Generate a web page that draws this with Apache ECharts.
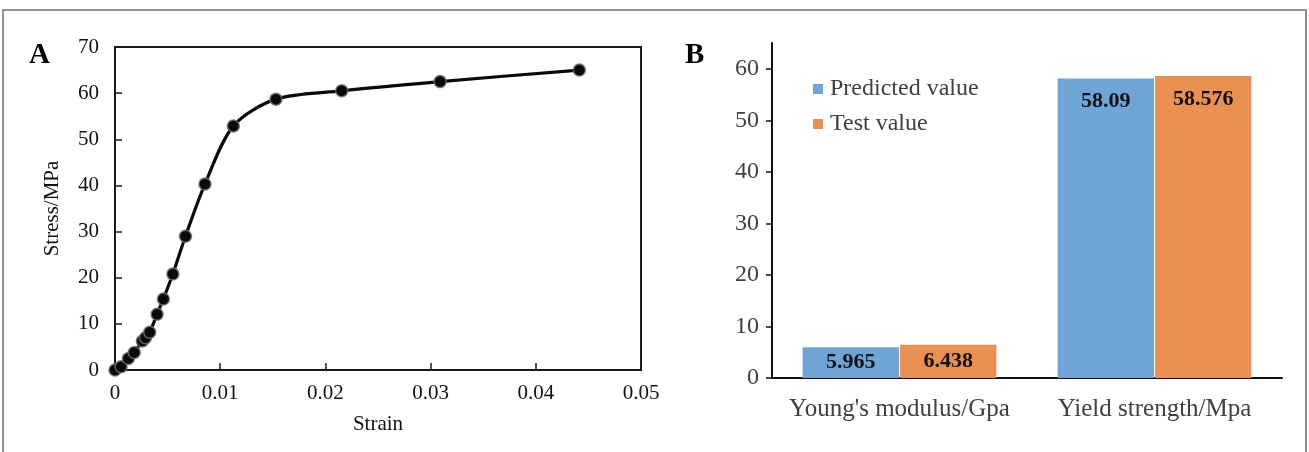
<!DOCTYPE html>
<html>
<head>
<meta charset="utf-8">
<script src="https://cdn.jsdelivr.net/npm/echarts@6/dist/echarts.min.js"></script>
<style>
  html, body { margin: 0; padding: 0; background: #fff; }
  #chart { width: 1309px; height: 452px; }
</style>
</head>
<body>
<div id="chart"></div>
<script>
// Panel A: stress–strain curve
const strain = [0, 0.00058, 0.00127, 0.00183, 0.0026, 0.0029, 0.0033, 0.0040, 0.0046, 0.0055, 0.0067, 0.00855, 0.01125, 0.0153, 0.02155, 0.0309, 0.04414];
const stress = [0, 0.7, 2.5, 3.8, 6.3, 7.0, 8.2, 12.1, 15.4, 20.8, 29.0, 40.3, 52.9, 58.7, 60.5, 62.5, 65.0];
const strainTicks = ['0', '0.01', '0.02', '0.03', '0.04', '0.05'];

// Panel B: predicted vs. test properties
const properties = ["Young's modulus/Gpa", 'Yield strength/Mpa'];
const predicted = [5.965, 58.09];
const tested = [6.438, 58.576];
const seriesNames = ['Predicted value', 'Test value'];
const barTicks = [0, 10, 20, 30, 40, 50, 60];

const serif = '"Liberation Serif", "Times New Roman", serif';
const curvePoints = strain.map((s, i) => [s, stress[i]]);

function barData(values) {
  return values.map(v => ({
    value: v,
    label: v < 20 ? { position: 'inside' } : { position: 'insideTop', distance: 12 }
  }));
}

const chart = echarts.init(document.getElementById('chart'), null, { renderer: 'canvas' });
chart.setOption({
  animation: false,
  backgroundColor: '#fff',
  textStyle: { fontFamily: serif },
  graphic: [
    { type: 'rect', shape: { x: 3, y: 10, width: 1303, height: 460 },
      style: { fill: 'none', stroke: '#6e6e6e', lineWidth: 1.5 }, silent: true },
    { type: 'text', left: 29, top: 41,
      style: { text: 'A', font: 'bold 29px ' + serif, fill: '#000' } },
    { type: 'text', left: 685, top: 41,
      style: { text: 'B', font: 'bold 29px ' + serif, fill: '#000' } }
  ],
  legend: {
    orient: 'vertical',
    left: 808, top: 72,
    itemWidth: 10, itemHeight: 10, itemGap: 11,
    icon: 'rect',
    data: seriesNames,
    textStyle: { fontFamily: serif, fontSize: 24, color: '#404040', padding: [0, 0, 0, 2] }
  },
  grid: [
    { left: 115, right: 668, top: 47, bottom: 82, show: true, borderColor: '#1a1a1a', borderWidth: 2, backgroundColor: 'transparent' },
    { left: 772, right: 27, top: 43, bottom: 74 }
  ],
  xAxis: [
    {
      type: 'value', gridIndex: 0, min: 0, max: 0.05, interval: 0.01,
      name: 'Strain', nameLocation: 'middle', nameGap: 44,
      nameTextStyle: { fontFamily: serif, fontSize: 21, color: '#111' },
      axisLine: { show: true, lineStyle: { color: '#1a1a1a', width: 2 } },
      axisTick: { show: true, inside: true, length: 7, lineStyle: { color: '#1a1a1a', width: 1.5 } },
      splitLine: { show: false },
      axisLabel: { fontFamily: serif, fontSize: 21, color: '#111', margin: 13,
        formatter: v => strainTicks[Math.round(v * 100)] }
    },
    {
      type: 'category', gridIndex: 1, data: properties,
      axisLine: { show: true, lineStyle: { color: '#111', width: 2 } },
      axisTick: { show: false },
      axisLabel: { fontFamily: serif, fontSize: 25, color: '#404040', margin: 19, interval: 0, hideOverlap: false }
    }
  ],
  yAxis: [
    {
      type: 'value', gridIndex: 0, min: 0, max: 70, interval: 10,
      name: 'Stress/MPa', nameLocation: 'middle', nameGap: 52, nameRotate: 90,
      nameTextStyle: { fontFamily: serif, fontSize: 21, color: '#111' },
      axisLine: { show: true, lineStyle: { color: '#1a1a1a', width: 2 } },
      axisTick: { show: true, inside: true, length: 7, lineStyle: { color: '#1a1a1a', width: 1.5 } },
      splitLine: { show: false },
      axisLabel: { fontFamily: serif, fontSize: 21, color: '#111', margin: 16 }
    },
    {
      type: 'value', gridIndex: 1, min: 0, max: 65,
      axisLine: { show: true, lineStyle: { color: '#111', width: 2 } },
      axisTick: { show: true, length: 6, customValues: barTicks, lineStyle: { color: '#111', width: 1.5 } },
      splitLine: { show: false },
      axisLabel: { fontFamily: serif, fontSize: 24, color: '#404040', margin: 13, customValues: barTicks }
    }
  ],
  series: [
    {
      type: 'line', xAxisIndex: 0, yAxisIndex: 0,
      data: curvePoints,
      smooth: 0.3,
      symbol: 'circle', symbolSize: 12,
      lineStyle: { color: '#0a0a0a', width: 3.2 },
      itemStyle: { color: '#0a0a0a', borderColor: 'rgba(110,110,110,0.85)', borderWidth: 1.5 }
    },
    {
      name: seriesNames[0], type: 'bar', xAxisIndex: 1, yAxisIndex: 1,
      data: barData(predicted),
      barGap: '1%', barCategoryGap: '24%',
      itemStyle: { color: '#6fa5d6' },
      label: { show: true, fontFamily: serif, fontWeight: 'bold', fontSize: 22, color: '#111' }
    },
    {
      name: seriesNames[1], type: 'bar', xAxisIndex: 1, yAxisIndex: 1,
      data: barData(tested),
      barGap: '1%', barCategoryGap: '24%',
      itemStyle: { color: '#ea9052' },
      label: { show: true, fontFamily: serif, fontWeight: 'bold', fontSize: 22, color: '#111' }
    }
  ]
});
</script>
</body>
</html>
